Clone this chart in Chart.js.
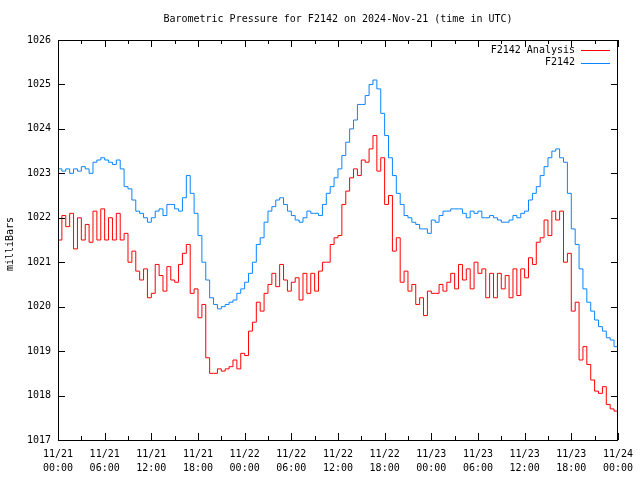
<!DOCTYPE html>
<html>
<head>
<meta charset="utf-8">
<script src="https://cdn.jsdelivr.net/npm/chart.js@4/dist/chart.umd.min.js"></script>
<style>
  html, body { margin: 0; padding: 0; background: #fff; }
  canvas { display: block; }
</style>
</head>
<body>
<canvas id="chart" width="640" height="480"></canvas>
<script>
// half-hourly readings, 2024-11-21 00:00 UTC .. 2024-11-24 00:00 UTC
const analysisValues = [
  1021.5, 1022.05, 1021.8, 1022.1, 1021.3, 1022.0, 1021.5, 1021.85, 1021.45, 1022.15,
  1021.5, 1022.2, 1021.5, 1022.0, 1021.5, 1022.1, 1021.5, 1021.65, 1021.0, 1021.25,
  1020.8, 1020.6, 1020.85, 1020.2, 1020.3, 1020.95, 1020.7, 1020.35, 1020.9, 1020.6,
  1020.55, 1020.95, 1021.2, 1021.4, 1020.3, 1020.4, 1019.75, 1020.05, 1018.85, 1018.5,
  1018.5, 1018.6, 1018.55, 1018.6, 1018.65, 1018.8, 1018.6, 1018.95, 1018.9, 1019.45,
  1019.65, 1020.1, 1019.9, 1020.3, 1020.5, 1020.75, 1020.45, 1020.95, 1020.6, 1020.35,
  1020.55, 1020.65, 1020.15, 1020.75, 1020.3, 1020.75, 1020.35, 1020.8, 1021.0, 1021.0,
  1021.4, 1021.55, 1021.6, 1022.3, 1022.6, 1022.9, 1023.1, 1022.95, 1023.3, 1023.25,
  1023.55, 1023.85, 1023.05, 1023.35, 1022.3, 1022.5, 1021.25, 1021.55, 1020.55, 1020.8,
  1020.35, 1020.5, 1020.05, 1020.2, 1019.8, 1020.35, 1020.3, 1020.3, 1020.5, 1020.35,
  1020.55, 1020.75, 1020.4, 1020.95, 1020.6, 1020.85, 1020.4, 1021.0, 1020.75, 1020.85,
  1020.2, 1020.75, 1020.2, 1020.75, 1020.4, 1020.7, 1020.2, 1020.85, 1020.25, 1020.85,
  1020.65, 1021.1, 1020.95, 1021.45, 1021.55, 1021.95, 1021.6, 1022.15, 1021.95, 1022.15,
  1021.0, 1021.2, 1019.9, 1020.1, 1018.8, 1019.1, 1018.7, 1018.35, 1018.1, 1018.05,
  1018.2, 1017.8, 1017.7, 1017.65, 1017.75
];

const stationValues = [
  1023.1, 1023.05, 1023.1, 1023.0, 1023.1, 1023.05, 1023.15, 1023.1, 1023.0, 1023.25,
  1023.3, 1023.35, 1023.3, 1023.25, 1023.2, 1023.3, 1023.1, 1022.7, 1022.65, 1022.4,
  1022.15, 1022.1, 1022.0, 1021.9, 1022.0, 1022.15, 1022.2, 1022.05, 1022.3, 1022.3,
  1022.2, 1022.15, 1022.45, 1022.95, 1022.55, 1022.1, 1021.6, 1021.0, 1020.6, 1020.2,
  1020.05, 1019.95, 1020.0, 1020.05, 1020.1, 1020.15, 1020.3, 1020.4, 1020.55, 1020.75,
  1021.0, 1021.4, 1021.55, 1021.9, 1022.15, 1022.25, 1022.4, 1022.45, 1022.3, 1022.15,
  1022.05, 1021.95, 1021.9, 1022.0, 1022.15, 1022.1, 1022.1, 1022.05, 1022.3, 1022.55,
  1022.7, 1022.9, 1023.1, 1023.4, 1023.7, 1024.0, 1024.2, 1024.55, 1024.55, 1024.75,
  1025.0, 1025.1, 1024.9, 1024.35, 1023.85, 1023.35, 1022.95, 1022.55, 1022.3, 1022.05,
  1022.0, 1021.9, 1021.85, 1021.75, 1021.75, 1021.65, 1021.95, 1021.9, 1022.05, 1022.15,
  1022.15, 1022.2, 1022.2, 1022.2, 1022.1, 1022.0, 1022.15, 1022.1, 1022.15, 1022.0,
  1022.0, 1022.05, 1022.0, 1021.95, 1021.9, 1021.9, 1021.95, 1022.05, 1022.0, 1022.1,
  1022.15, 1022.4, 1022.55, 1022.7, 1022.95, 1023.15, 1023.35, 1023.5, 1023.55, 1023.35,
  1023.25, 1022.55, 1021.75, 1021.4, 1020.85, 1020.4, 1020.1, 1019.9, 1019.7, 1019.55,
  1019.45, 1019.3, 1019.25, 1019.1, 1019.35
];

const xTickLabels = ['11/21\n00:00', '11/21\n06:00', '11/21\n12:00', '11/21\n18:00',
  '11/22\n00:00', '11/22\n06:00', '11/22\n12:00', '11/22\n18:00',
  '11/23\n00:00', '11/23\n06:00', '11/23\n12:00', '11/23\n18:00', '11/24\n00:00'];
const yTicks = [1017, 1018, 1019, 1020, 1021, 1022, 1023, 1024, 1025, 1026];
const seriesNames = ['F2142 Analysis', 'F2142'];
const seriesColors = ['#ff0000', '#0a84ff'];
const chartTitle = 'Barometric Pressure for F2142 on 2024-Nov-21 (time in UTC)';
const yTitle = 'milliBars';

const FONT = '"DejaVu Sans Mono", "Liberation Mono", monospace';

const toPoints = arr => arr.map((v, i) => ({ x: i * 0.5, y: v }));

// gnuplot style frame, inward tics, title, key
const gnuplotDecor = {
  id: 'gnuplotDecor',
  afterDraw(chart) {
    const { ctx, chartArea: a, scales } = chart;
    ctx.save();
    ctx.strokeStyle = '#000';
    ctx.lineWidth = 1;
    ctx.beginPath();
    ctx.rect(Math.round(a.left) + 0.5, Math.round(a.top) + 0.5,
      Math.round(a.right - a.left) - 1, Math.round(a.bottom - a.top));
    // y tics on both sides
    yTicks.forEach(v => {
      const y = Math.round(scales.y.getPixelForValue(v)) + 0.5;
      ctx.moveTo(a.left, y); ctx.lineTo(a.left + 7, y);
      ctx.moveTo(a.right, y); ctx.lineTo(a.right - 7, y);
    });
    // x tics every 3 hours on bottom and top
    for (let h = 0; h <= 72; h += 3) {
      const x = Math.round(scales.x.getPixelForValue(h)) + 0.5;
      const len = h % 6 === 0 ? 7 : 4;
      ctx.moveTo(x, a.bottom); ctx.lineTo(x, a.bottom - len);
      ctx.moveTo(x, a.top); ctx.lineTo(x, a.top + len);
    }
    ctx.stroke();

    ctx.fillStyle = '#000';
    ctx.font = '10px ' + FONT;
    ctx.textAlign = 'center';
    ctx.textBaseline = 'middle';
    ctx.fillText(chartTitle, (a.left + a.right) / 2, 19);

    ctx.save();
    ctx.translate(10, (a.top + a.bottom) / 2 + 4);
    ctx.rotate(-Math.PI / 2);
    ctx.fillText(yTitle, 0, 0);
    ctx.restore();

    // key
    ctx.textAlign = 'right';
    seriesNames.forEach((name, i) => {
      const y = 50 + i * 12.5;
      ctx.fillStyle = '#000';
      ctx.fillText(name, 575, y);
      ctx.strokeStyle = seriesColors[i];
      ctx.beginPath();
      ctx.moveTo(581, Math.round(y) + 0.5);
      ctx.lineTo(610, Math.round(y) + 0.5);
      ctx.stroke();
    });
    ctx.restore();
  }
};

const chart = new Chart(document.getElementById('chart').getContext('2d'), {
  type: 'line',
  data: {
    datasets: [
      {
        label: seriesNames[1],
        data: toPoints(stationValues),
        borderColor: seriesColors[1],
        borderWidth: 1,
        pointRadius: 0,
        stepped: true,
        fill: false
      },
      {
        label: seriesNames[0],
        data: toPoints(analysisValues),
        borderColor: seriesColors[0],
        borderWidth: 1,
        pointRadius: 0,
        stepped: true,
        fill: false
      }
    ]
  },
  options: {
    responsive: false,
    animation: false,
    layout: { padding: { left: 0, right: 18, top: 40, bottom: 0 } },
    plugins: {
      legend: { display: false },
      title: { display: false },
      tooltip: { enabled: false }
    },
    scales: {
      x: {
        type: 'linear',
        min: 0,
        max: 72,
        afterFit: s => { s.height = 40; },
        afterBuildTicks: s => { s.ticks = xTickLabels.map((_, i) => ({ value: i * 6 })); },
        grid: { display: false, drawTicks: false },
        border: { display: false },
        ticks: {
          autoSkip: false,
          maxRotation: 0,
          padding: 7,
          color: '#000',
          font: { family: FONT, size: 10, lineHeight: 1.4 },
          callback: (v, i) => xTickLabels[i].split('\n')
        }
      },
      y: {
        min: 1017,
        max: 1026,
        afterFit: s => { s.width = 58; },
        afterBuildTicks: s => { s.ticks = yTicks.map(v => ({ value: v })); },
        grid: { display: false, drawTicks: false },
        border: { display: false },
        ticks: {
          padding: 7,
          color: '#000',
          font: { family: FONT, size: 10 },
          callback: v => String(v)
        }
      }
    }
  },
  plugins: [gnuplotDecor]
});
</script>
</body>
</html>
